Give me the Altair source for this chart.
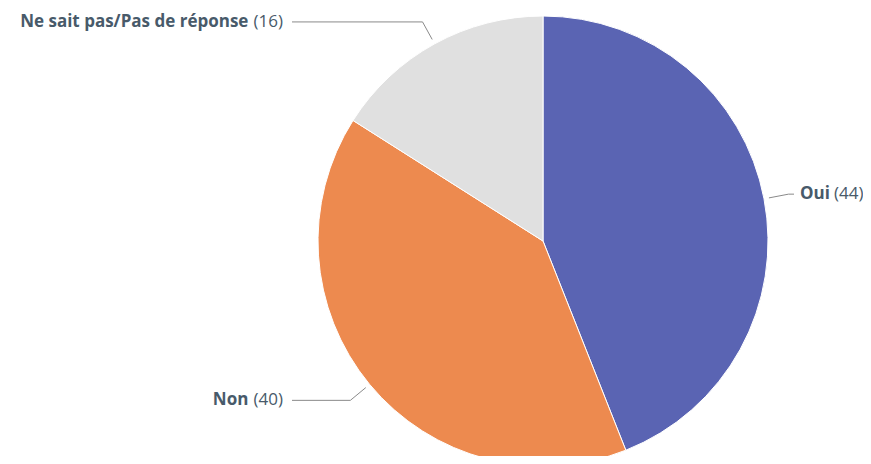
import altair as alt
import pandas as pd

categories = ["Oui", "Non", "Ne sait pas/Pas de réponse"]
values = [44, 40, 16]
colors = ["#5a64b3", "#ed8a4f", "#e0e0e0"]

df = pd.DataFrame({"cat": categories, "value": values, "idx": list(range(len(categories)))})

CX, CY, R = 535, 233, 225
FONT = "Open Sans"
TXT = "#485a6a"
FS = 17

base = alt.Chart(df)

pie = base.mark_arc(outerRadius=R, stroke="white", strokeWidth=1).encode(
    theta=alt.Theta("value:Q", stack=True),
    color=alt.Color("cat:N", scale=alt.Scale(domain=categories, range=colors), legend=None),
    order=alt.Order("idx:Q"),
    x=alt.value(CX),
    y=alt.value(CY),
)

geo = base.transform_window(
    cum="sum(value)", sort=[alt.SortField("idx")], frame=[None, 0]
).transform_joinaggregate(
    total="sum(value)"
).transform_calculate(
    mid="(datum.cum - datum.value/2)/datum.total*2*PI"
).transform_calculate(
    sx="sin(datum.mid)"
).transform_calculate(
    sy="-cos(datum.mid)"
).transform_calculate(
    side="datum.sx >= 0 ? 1 : -1"
).transform_calculate(
    x0=f"{CX} + {R + 5}*datum.sx",
    y0=f"{CY} + {R + 5}*datum.sy",
    x1=f"{CX} + {R + 25}*datum.sx",
    y1=f"{CY} + {R + 25}*datum.sy",
    x2=f"{CX} + datum.side*{R + 26}",
    tx=f"{CX} + datum.side*(datum.side > 0 ? {R + 32} : {R + 35})",
    valtxt="'(' + datum.value + ')'",
)

rule1 = geo.mark_rule(color="#8a8a8a", strokeWidth=1).encode(
    x=alt.X("x0:Q", scale=None), y=alt.Y("y0:Q", scale=None),
    x2="x1:Q", y2="y1:Q",
)
rule2 = geo.mark_rule(color="#8a8a8a", strokeWidth=1).encode(
    x=alt.X("x1:Q", scale=None), y=alt.Y("y1:Q", scale=None),
    x2="x2:Q", y2="y1:Q",
)

right = geo.transform_filter("datum.side > 0").transform_calculate(
    vx="datum.tx + length(datum.cat)*10 + 4"
)
left = geo.transform_filter("datum.side < 0").transform_calculate(
    nx="datum.tx - length(datum.valtxt)*7.4 - 5"
)

r_name = right.mark_text(align="left", baseline="middle", font=FONT, fontSize=FS,
                         fontWeight="bold", color=TXT).encode(
    x=alt.X("tx:Q", scale=None), y=alt.Y("y1:Q", scale=None), text="cat:N")
r_val = right.mark_text(align="left", baseline="middle", font=FONT, fontSize=FS,
                        color=TXT).encode(
    x=alt.X("vx:Q", scale=None), y=alt.Y("y1:Q", scale=None), text="valtxt:N")
l_name = left.mark_text(align="right", baseline="middle", font=FONT, fontSize=FS,
                        fontWeight="bold", color=TXT).encode(
    x=alt.X("nx:Q", scale=None), y=alt.Y("y1:Q", scale=None), text="cat:N")
l_val = left.mark_text(align="right", baseline="middle", font=FONT, fontSize=FS,
                       color=TXT).encode(
    x=alt.X("tx:Q", scale=None), y=alt.Y("y1:Q", scale=None), text="valtxt:N")

chart = alt.layer(pie, rule1, rule2, r_name, r_val, l_name, l_val).properties(
    width=855, height=448, padding=0,
    autosize=alt.AutoSizeParams(type="none"),
).configure(background="white").configure_view(stroke=None)

chart.save("out.html", embed_options={"renderer": "svg", "actions": False})
